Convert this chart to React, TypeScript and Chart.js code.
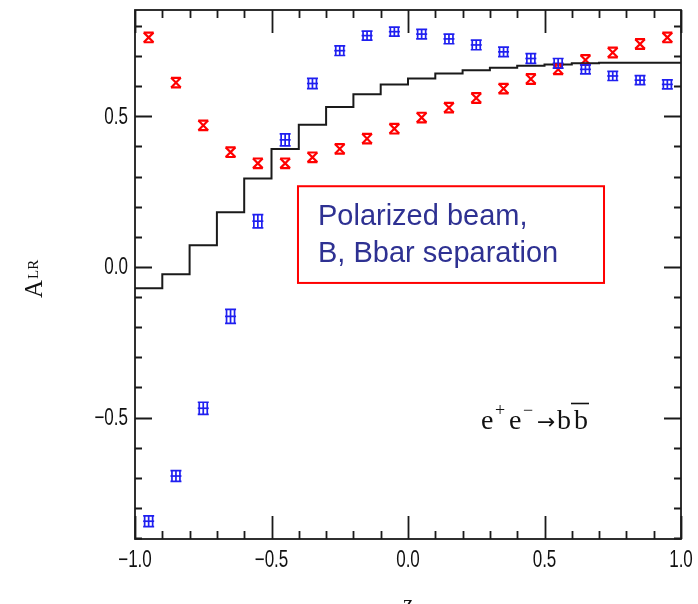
import { useEffect, useRef } from 'react';
import { Chart, registerables } from 'chart.js';

Chart.register(...registerables);

// ---- data ----
const zCenters = [-0.95, -0.85, -0.75, -0.65, -0.55, -0.45, -0.35, -0.25, -0.15, -0.05,
  0.05, 0.15, 0.25, 0.35, 0.45, 0.55, 0.65, 0.75, 0.85, 0.95];
const zEdges = [-1.0, -0.9, -0.8, -0.7, -0.6, -0.5, -0.4, -0.3, -0.2, -0.1, 0.0,
  0.1, 0.2, 0.3, 0.4, 0.5, 0.6, 0.7, 0.8, 0.9, 1.0];

const redAlr = [0.762, 0.612, 0.470, 0.381, 0.344, 0.344, 0.364, 0.392, 0.426, 0.459,
  0.496, 0.529, 0.561, 0.592, 0.624, 0.656, 0.687, 0.712, 0.740, 0.762];
const redErr = [0.016, 0.016, 0.016, 0.016, 0.016, 0.016, 0.016, 0.016, 0.016, 0.016,
  0.016, 0.016, 0.016, 0.016, 0.016, 0.016, 0.016, 0.016, 0.016, 0.016];

const blueAlr = [-0.844, -0.694, -0.469, -0.164, 0.152, 0.422, 0.609, 0.718, 0.768, 0.781,
  0.773, 0.757, 0.737, 0.714, 0.692, 0.676, 0.656, 0.634, 0.620, 0.606];
const blueErr = [0.018, 0.018, 0.020, 0.023, 0.022, 0.020, 0.017, 0.016, 0.015, 0.015,
  0.016, 0.016, 0.016, 0.016, 0.016, 0.016, 0.015, 0.015, 0.015, 0.015];

const stepAlr = [-0.071, -0.024, 0.072, 0.182, 0.294, 0.392, 0.472, 0.531, 0.573, 0.606,
  0.626, 0.642, 0.653, 0.661, 0.668, 0.672, 0.676, 0.678, 0.678, 0.678];

const xTickValues = [-1.0, -0.5, 0.0, 0.5, 1.0];
const xTickLabels = ['\u22121.0', '\u22120.5', '0.0', '0.5', '1.0'];
const yTickValues = [-0.5, 0.0, 0.5];
const yTickLabels = ['\u22120.5', '0.0', '0.5'];

const RED = '#ff0000';
const BLUE = '#1f1ff0';
const INK = '#1a1a1a';
const TICK_FONT = "23px 'Liberation Sans', Arial, sans-serif";
const SERIF = "'Liberation Serif', 'DejaVu Serif', serif";

export default function App() {
  const ref = useRef<HTMLCanvasElement>(null);

  useEffect(() => {
    const canvas = ref.current;
    if (!canvas) return;

    const errPlugin = {
      id: 'errbars',
      afterDatasetsDraw(chart: any) {
        const { ctx, scales } = chart;
        const x = scales.x;
        const y = scales.y;
        ctx.save();
        ctx.strokeStyle = RED;
        ctx.lineWidth = 2.2;
        zCenters.forEach((z, i) => {
          const px = x.getPixelForValue(z);
          const t = y.getPixelForValue(redAlr[i] + redErr[i]);
          const b = y.getPixelForValue(redAlr[i] - redErr[i]);
          ctx.beginPath();
          ctx.moveTo(px - 5, t); ctx.lineTo(px + 5, t);
          ctx.moveTo(px - 5, b); ctx.lineTo(px + 5, b);
          ctx.stroke();
        });
        ctx.strokeStyle = BLUE;
        ctx.lineWidth = 1.7;
        zCenters.forEach((z, i) => {
          const px = x.getPixelForValue(z);
          const t = y.getPixelForValue(blueAlr[i] + blueErr[i]);
          const b = y.getPixelForValue(blueAlr[i] - blueErr[i]);
          ctx.beginPath();
          ctx.moveTo(px - 5.5, t); ctx.lineTo(px + 5.5, t);
          ctx.moveTo(px - 5.5, b); ctx.lineTo(px + 5.5, b);
          ctx.moveTo(px - 4, t); ctx.lineTo(px - 4, b);
          ctx.moveTo(px, t); ctx.lineTo(px, b);
          ctx.moveTo(px + 4, t); ctx.lineTo(px + 4, b);
          ctx.stroke();
        });
        ctx.restore();
      },
    };

    const framePlugin = {
      id: 'frame',
      afterDraw(chart: any) {
        const { ctx, chartArea, scales } = chart;
        const x = scales.x;
        const y = scales.y;
        const { left, right, top, bottom } = chartArea;
        ctx.save();
        ctx.strokeStyle = INK;
        ctx.lineWidth = 1.8;
        ctx.strokeRect(left, top, right - left, bottom - top);
        ctx.beginPath();
        for (let k = -10; k <= 10; k++) {
          const v = k / 10;
          const px = Math.round(x.getPixelForValue(v)) + 0.5;
          const major = k % 5 === 0;
          const len = major ? 23 : 8;
          ctx.moveTo(px, bottom); ctx.lineTo(px, bottom - len);
          ctx.moveTo(px, top); ctx.lineTo(px, top + len);
        }
        for (let k = -9; k <= 8; k++) {
          const v = k / 10;
          const py = Math.round(y.getPixelForValue(v)) + 0.5;
          const major = k % 5 === 0;
          const len = major ? 17 : 7;
          ctx.moveTo(left, py); ctx.lineTo(left + len, py);
          ctx.moveTo(right, py); ctx.lineTo(right - len, py);
        }
        ctx.stroke();

        // tick labels (narrow sans)
        ctx.fillStyle = '#111';
        ctx.font = TICK_FONT;
        ctx.textAlign = 'center';
        ctx.textBaseline = 'top';
        xTickValues.forEach((v, i) => {
          ctx.save();
          ctx.translate(x.getPixelForValue(v), bottom + 10);
          ctx.scale(0.74, 1);
          ctx.fillText(xTickLabels[i], 0, 0);
          ctx.restore();
        });
        ctx.textAlign = 'right';
        ctx.textBaseline = 'middle';
        yTickValues.forEach((v, i) => {
          ctx.save();
          ctx.translate(left - 7, y.getPixelForValue(v) + 1);
          ctx.scale(0.74, 1);
          ctx.fillText(yTickLabels[i], 0, 0);
          ctx.restore();
        });

        // y-axis title A_LR (rotated)
        ctx.save();
        ctx.translate(42, 298);
        ctx.rotate(-Math.PI / 2);
        ctx.textAlign = 'left';
        ctx.textBaseline = 'alphabetic';
        ctx.font = `25px ${SERIF}`;
        ctx.fillText('A', 0, 0);
        const aw = ctx.measureText('A').width;
        ctx.font = `15px ${SERIF}`;
        ctx.fillText('LR', aw + 1, -4);
        ctx.restore();

        // x-axis title z
        ctx.font = `23px ${SERIF}`;
        ctx.textAlign = 'center';
        ctx.textBaseline = 'alphabetic';
        ctx.fillText('z', x.getPixelForValue(0), 611);

        // process label e+e- -> b bbar
        ctx.textAlign = 'left';
        ctx.font = `28px ${SERIF}`;
        ctx.fillText('e', 481, 429);
        ctx.fillText('e', 509, 429);
        ctx.fillText('b', 557, 429);
        ctx.fillText('b', 574, 429);
        ctx.font = `18px ${SERIF}`;
        ctx.fillText('+', 495, 416);
        ctx.fillText('\u2212', 523, 416);
        ctx.font = "22px 'DejaVu Sans', sans-serif";
        ctx.fillText('\u2192', 537, 429);
        ctx.beginPath();
        ctx.lineWidth = 1.6;
        ctx.strokeStyle = '#111';
        ctx.moveTo(571, 403.5); ctx.lineTo(589, 403.5);
        ctx.stroke();

        // annotation box
        const bx0 = x.getPixelForValue(-0.403);
        const bx1 = x.getPixelForValue(0.718);
        const by0 = y.getPixelForValue(0.268);
        const by1 = y.getPixelForValue(-0.053);
        ctx.fillStyle = '#ffffff';
        ctx.fillRect(bx0, by0, bx1 - bx0, by1 - by0);
        ctx.strokeStyle = RED;
        ctx.lineWidth = 2;
        ctx.strokeRect(bx0, by0, bx1 - bx0, by1 - by0);
        ctx.fillStyle = '#2e3192';
        ctx.font = "29px 'Liberation Sans', Arial, sans-serif";
        ctx.textAlign = 'left';
        ctx.fillText('Polarized beam,', bx0 + 20, by0 + 39);
        ctx.fillText('B, Bbar separation', bx0 + 20, by0 + 76);
        ctx.restore();
      },
    };

    const stepData = zEdges.map((z, i) => ({ x: z, y: stepAlr[Math.min(i, stepAlr.length - 1)] }));

    const zeroPad = (s: any) => {
      s.paddingTop = 0; s.paddingBottom = 0; s.paddingLeft = 0; s.paddingRight = 0;
    };

    const chart = new Chart(canvas, {
      type: 'scatter',
      data: {
        datasets: [
          {
            type: 'line',
            label: 'theory',
            data: stepData,
            stepped: 'before',
            borderColor: INK,
            borderWidth: 2,
            pointRadius: 0,
            fill: false,
          } as any,
          {
            label: 'red',
            data: zCenters.map((z, i) => ({ x: z, y: redAlr[i] })),
            pointStyle: 'crossRot',
            pointRadius: 6.8,
            borderColor: RED,
            borderWidth: 2.2,
            backgroundColor: RED,
          },
          {
            label: 'blue',
            data: zCenters.map((z, i) => ({ x: z, y: blueAlr[i] })),
            pointStyle: 'line',
            pointRadius: 5.5,
            borderColor: BLUE,
            borderWidth: 1.7,
            backgroundColor: BLUE,
          },
        ],
      },
      options: {
        responsive: false,
        animation: false,
        events: [],
        layout: { padding: { top: 10, right: 17, left: 0, bottom: 0 } },
        plugins: {
          legend: { display: false },
          tooltip: { enabled: false },
        },
        scales: {
          x: {
            type: 'linear',
            min: -1,
            max: 1,
            afterBuildTicks: (s: any) => { s.ticks = xTickValues.map((v) => ({ value: v })); },
            afterFit: (s: any) => { s.height = 65; zeroPad(s); },
            grid: { display: false, drawTicks: false },
            border: { display: false },
            ticks: { display: false },
          },
          y: {
            type: 'linear',
            min: -0.903,
            max: 0.853,
            afterBuildTicks: (s: any) => { s.ticks = yTickValues.map((v) => ({ value: v })); },
            afterFit: (s: any) => { s.width = 135; zeroPad(s); },
            grid: { display: false, drawTicks: false },
            border: { display: false },
            ticks: { display: false },
          },
        },
      },
      plugins: [errPlugin, framePlugin],
    });

    return () => chart.destroy();
  }, []);

  return (
    <div style={{ position: 'absolute', left: 0, top: 0, width: 698, height: 604, overflow: 'hidden', background: '#fff' }}>
      <canvas ref={ref} width={698} height={604} style={{ display: 'block' }} />
    </div>
  );
}
